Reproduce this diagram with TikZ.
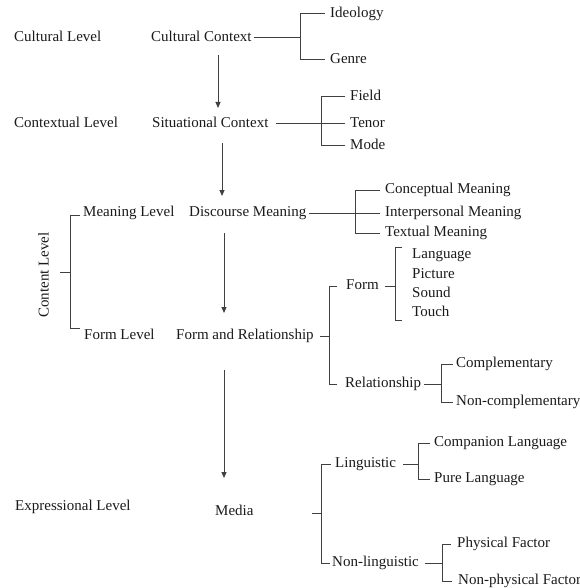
\documentclass[tikz,border=0pt]{standalone}
\usepackage{fontspec}
\setmainfont{Liberation Serif}
\usetikzlibrary{arrows.meta}
\definecolor{txt}{HTML}{1A1A1A}
\definecolor{lnc}{HTML}{404040}
\begin{document}
\begin{tikzpicture}[x=1pt,y=-1pt,
  lbl/.style={anchor=west,inner sep=0pt,text height=10pt,text depth=3pt,font=\fontsize{15}{18}\selectfont,text=txt},
  conn/.style={draw=lnc,line width=1pt},
  arr/.style={conn,-{Triangle[length=6pt,width=5pt]}}]
\clip (0,0) rectangle (579,588);
% levels
\node[lbl] (cl) at (14,38) {Cultural Level};
\node[lbl] (xl) at (14,124) {Contextual Level};
\node[lbl] (ml) at (83,213) {Meaning Level};
\node[lbl] (fl) at (84,336) {Form Level};
\node[lbl] (el) at (15,507) {Expressional Level};
\node[lbl,anchor=center,rotate=90] (content) at (45,275) {Content Level};
% main column
\node[lbl] (cc) at (151,38) {Cultural Context};
\node[lbl] (sc) at (152,124) {Situational Context};
\node[lbl] (dm) at (189,213) {Discourse Meaning};
\node[lbl] (far) at (176,336) {Form and Relationship};
\node[lbl] (med) at (215,512) {Media};
% leaves
\node[lbl] (ide) at (330,14) {Ideology};
\node[lbl] (gen) at (330,60) {Genre};
\node[lbl] (fld) at (350,97) {Field};
\node[lbl] (ten) at (350,124) {Tenor};
\node[lbl] (mod) at (350,146) {Mode};
\node[lbl] (cm) at (385,190) {Conceptual Meaning};
\node[lbl] (im) at (385,213) {Interpersonal Meaning};
\node[lbl] (tm) at (385,233) {Textual Meaning};
\node[lbl] (frm) at (346,286) {Form};
\node[lbl] (lang) at (412,255) {Language};
\node[lbl] (pic) at (412,275) {Picture};
\node[lbl] (snd) at (412,294) {Sound};
\node[lbl] (tch) at (412,313) {Touch};
\node[lbl] (rel) at (345,384) {Relationship};
\node[lbl] (comp) at (456,364) {Complementary};
\node[lbl] (ncomp) at (456,402) {Non-complementary};
\node[lbl] (ling) at (335,464) {Linguistic};
\node[lbl] (comL) at (434,443) {Companion Language};
\node[lbl] (pure) at (434,479) {Pure Language};
\node[lbl] (nling) at (332,563) {Non-linguistic};
\node[lbl] (phys) at (457,544) {Physical Factor};
\node[lbl] (nphys) at (458,581) {Non-physical Factor};
% arrows
\coordinate (a1s) at (218,55);  \coordinate (a1e) at (218,108);
\coordinate (a2s) at (222,143); \coordinate (a2e) at (222,196);
\coordinate (a3s) at (224,233); \coordinate (a3e) at (224,313);
\coordinate (a4s) at (224,370); \coordinate (a4e) at (224,478);
\draw[arr] (a1s) -- (a1e);
\draw[arr] (a2s) -- (a2e);
\draw[arr] (a3s) -- (a3e);
\draw[arr] (a4s) -- (a4e);
% spines
\coordinate (s1) at (300,0);
\coordinate (s2) at (321,0);
\coordinate (s3) at (355,0);
\coordinate (s4) at (70,0);
\coordinate (s5) at (329,0);
\coordinate (s6) at (395,0);
\coordinate (s7) at (441,0);
\coordinate (s8) at (321,0);
\coordinate (s9) at (418,0);
\coordinate (s10) at (442,0);
% cultural context
\draw[conn] ([xshift=2pt]cc.east) -- (cc.east -| s1);
\draw[conn] ([xshift=-5pt]ide.west) -| (s1 |- gen.west) -- ([xshift=-5pt]gen.west);
% situational context
\draw[conn] ([xshift=7pt]sc.east) -- ([xshift=-5pt]ten.west);
\draw[conn] ([xshift=-5pt]fld.west) -| (s2 |- mod.west) -- ([xshift=-5pt]mod.west);
% discourse meaning
\draw[conn] ([xshift=3pt]dm.east) -- ([xshift=-5pt]im.west);
\draw[conn] ([xshift=-5pt]cm.west) -| (s3 |- tm.west) -- ([xshift=-5pt]tm.west);
% content level
\coordinate (c4t) at (80,215); \coordinate (c4b) at (80,328); \coordinate (c4m) at (60,272);
\draw[conn] (c4t) -| (s4 |- c4b) -- (c4b);
\draw[conn] (c4m) -- (c4m -| s4);
% form and relationship
\draw[conn] ([xshift=6pt]far.east) -- (far.east -| s5);
\draw[conn] ([xshift=-9pt]frm.west) -| (s5 |- rel.west) -- ([xshift=-8pt]rel.west);
% form
\coordinate (f6t) at (402,247); \coordinate (f6b) at (402,320);
\draw[conn] ([xshift=6pt]frm.east) -- (frm.east -| s6);
\draw[conn] (f6t) -| (s6 |- f6b) -- (f6b);
% relationship
\draw[conn] ([xshift=3pt]rel.east) -- (rel.east -| s7);
\draw[conn] ([xshift=-3pt]comp.west) -| (s7 |- ncomp.west) -- ([xshift=-3pt]ncomp.west);
% media
\coordinate (m8) at (312,513);
\draw[conn] (m8) -- (m8 -| s8);
\draw[conn] ([xshift=-4pt]ling.west) -| (s8 |- nling.west) -- ([xshift=-2pt]nling.west);
% linguistic
\draw[conn] ([xshift=7pt]ling.east) -- (ling.east -| s9);
\draw[conn] ([xshift=-4pt]comL.west) -| (s9 |- pure.west) -- ([xshift=-4pt]pure.west);
% non-linguistic
\draw[conn] ([xshift=6pt]nling.east) -- (nling.east -| s10);
\draw[conn] ([xshift=-6pt]phys.west) -| (s10 |- nphys.west) -- ([xshift=-6pt]nphys.west);
\end{tikzpicture}
\end{document}
